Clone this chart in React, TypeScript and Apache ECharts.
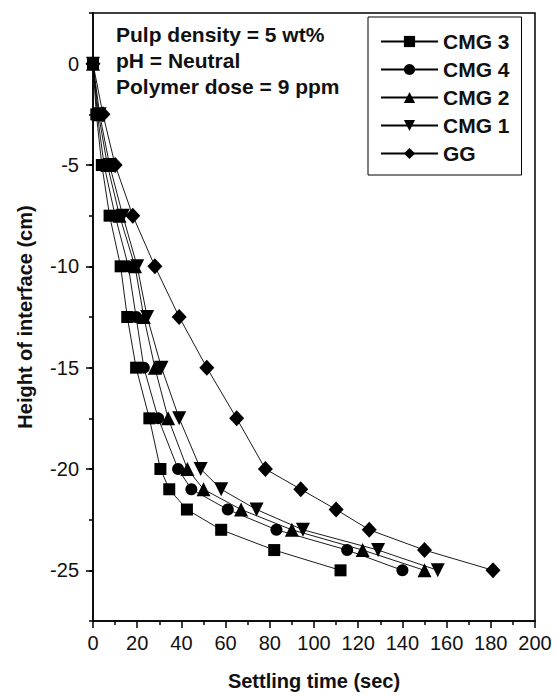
import React, { useEffect, useRef } from "react";
import * as echarts from "echarts";

const heights = [0, -2.5, -5, -7.5, -10, -12.5, -15, -17.5, -20, -21, -22, -23, -24, -25];
const timesCMG3 = [0, 1.5, 4, 7.5, 12.5, 15.5, 19.5, 25.5, 30.5, 34.5, 42.5, 58, 82, 112];
const timesCMG4 = [0, 2, 5, 10, 16, 19.5, 23, 29.5, 38.5, 44.5, 61, 83, 115, 140];
const timesCMG2 = [0, 2.5, 6.5, 12, 19, 23, 28, 34, 42.7, 50, 67, 90, 122, 150];
const timesCMG1 = [0, 3, 7.5, 13.5, 20, 24.5, 31, 39, 48.7, 58, 74, 95, 129, 156];
const timesGG = [0, 4.5, 10, 18, 28, 39, 51.5, 65, 78, 94, 110, 125, 150, 181];

const seriesNames = ["CMG 3", "CMG 4", "CMG 2", "CMG 1", "GG"];
const yMajorTicks = [0, -5, -10, -15, -20, -25];
const annotations = ["Pulp density = 5 wt%", "pH = Neutral", "Polymer dose = 9 ppm"];

const FONT = "'Liberation Sans', Arial, Helvetica, sans-serif";

export default function App() {
  const ref = useRef<HTMLDivElement>(null);
  useEffect(() => {
    if (!ref.current) return;
    const chart = echarts.init(ref.current, undefined, { renderer: "svg" });
    const mk = (name: string, xs: number[], symbol: string, size: any, rotate = 0) => ({
      name,
      type: "line",
      data: xs.map((x, i) => [x, heights[i]]),
      symbol,
      symbolSize: size,
      symbolRotate: rotate,
      showSymbol: true,
      lineStyle: { color: "#000", width: 0.9 },
      itemStyle: { color: "#000" },
      z: 3,
    });
    chart.setOption({
      animation: false,
      backgroundColor: "#fff",
      textStyle: { fontFamily: FONT },
      grid: {
        left: 93,
        right: 21,
        top: 13,
        bottom: 75,
        show: true,
        borderColor: "#000",
        borderWidth: 1.5,
        backgroundColor: "transparent",
      },
      legend: {
        orient: "vertical",
        left: 368,
        top: 17,
        padding: [14, 12, 11, 12],
        itemGap: 7,
        itemWidth: 57,
        itemHeight: 14,
        borderColor: "#000",
        borderWidth: 1,
        backgroundColor: "#fff",
        textStyle: { fontFamily: FONT, fontWeight: "bold", fontSize: 21, color: "#111", lineHeight: 20 },
        data: seriesNames,
      },
      xAxis: {
        type: "value",
        min: 0,
        max: 200,
        interval: 20,
        name: "Settling time (sec)",
        nameLocation: "middle",
        nameGap: 50,
        nameTextStyle: { fontFamily: FONT, fontWeight: "bold", fontSize: 20, color: "#111" },
        axisLine: { show: true, onZero: false, lineStyle: { color: "#000", width: 1.5 } },
        axisTick: { show: true, inside: false, length: 7, lineStyle: { color: "#000", width: 1.5 } },
        minorTick: { show: true, splitNumber: 2, length: 4, lineStyle: { color: "#000", width: 1.5 } },
        axisLabel: { fontFamily: FONT, fontSize: 20, color: "#111", margin: 12 },
        splitLine: { show: false },
      },
      yAxis: [
        {
          type: "value",
          min: -27.5,
          max: 2.5,
          interval: 2.5,
          name: "Height of interface (cm)",
          nameLocation: "middle",
          nameGap: 58,
          nameTextStyle: { fontFamily: FONT, fontWeight: "bold", fontSize: 20, color: "#111" },
          axisLine: { show: true, onZero: false, lineStyle: { color: "#000", width: 1.5 } },
          axisTick: { show: true, inside: false, length: 4, lineStyle: { color: "#000", width: 1.5 } },
          axisLabel: {
            fontFamily: FONT,
            fontSize: 20,
            color: "#111",
            margin: 14,
            formatter: (v: number) => (yMajorTicks.includes(v) ? String(v) : ""),
          },
          splitLine: { show: false },
        },
        {
          type: "value",
          min: -27.5,
          max: 2.5,
          position: "left",
          axisLine: { show: false },
          axisTick: {
            show: true,
            inside: false,
            length: 7,
            customValues: yMajorTicks,
            lineStyle: { color: "#000", width: 1.5 },
          },
          axisLabel: { show: false },
          splitLine: { show: false },
        },
      ],
      graphic: annotations.map((t, i) => ({
        type: "text",
        left: 116,
        top: 24 + i * 26,
        style: { text: t, font: `bold 21px ${FONT}`, fill: "#111" },
      })),
      series: [
        mk(seriesNames[0], timesCMG3, "rect", 12),
        mk(seriesNames[1], timesCMG4, "circle", 12),
        mk(seriesNames[2], timesCMG2, "triangle", 14),
        mk(seriesNames[3], timesCMG1, "triangle", 14, 180),
        mk(seriesNames[4], timesGG, "diamond", [15, 16]),
      ],
    });
    return () => chart.dispose();
  }, []);
  return (
    <div
      ref={ref}
      style={{ position: "fixed", left: 0, top: 0, width: 556, height: 696 }}
    />
  );
}
